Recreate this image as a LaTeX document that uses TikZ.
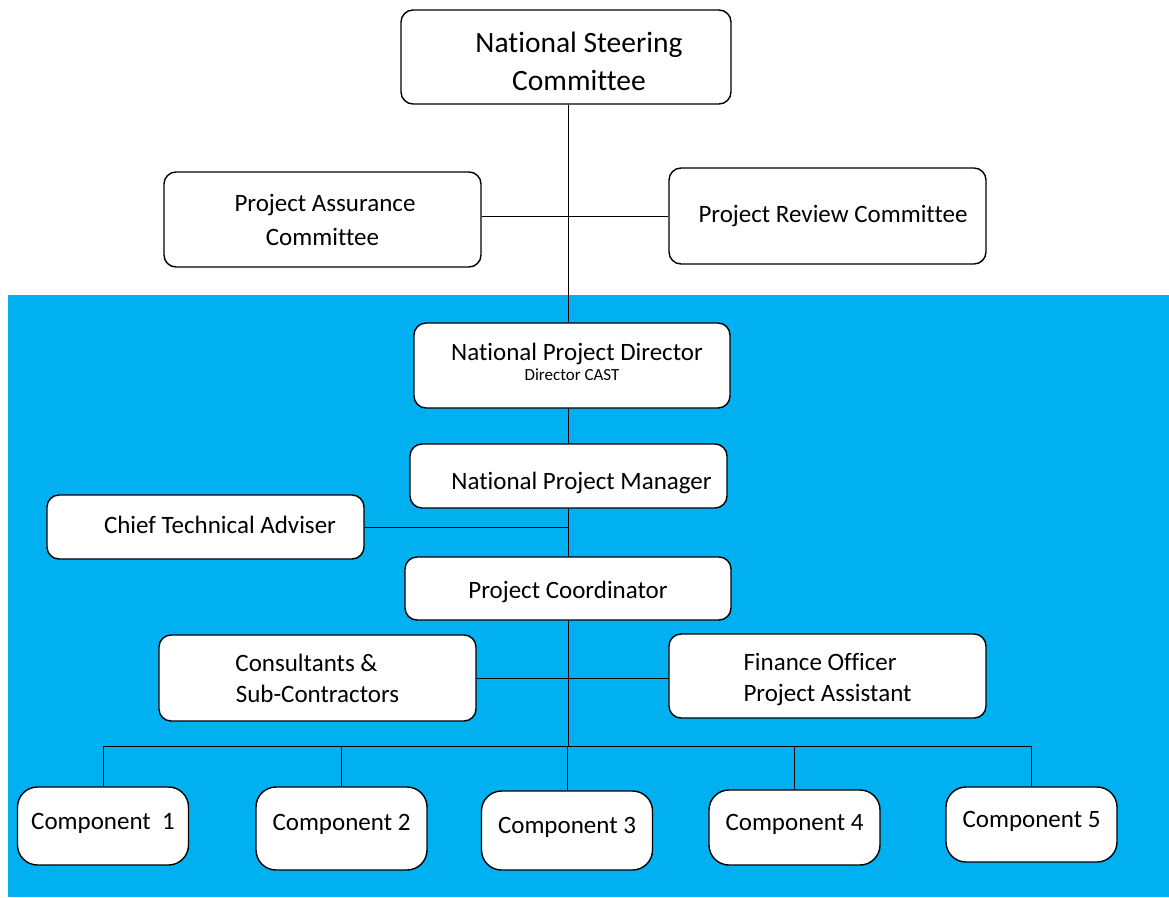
\documentclass[tikz,border=0pt]{standalone}
\usepackage{fontspec}
\setmainfont{Carlito}[Ligatures=NoCommon]
\definecolor{bgblue}{HTML}{00B0F0}

\begin{document}
\begin{tikzpicture}[x=1pt,y=-1pt,
  box/.style={draw,fill=white,line width=1.4pt,rounded corners=12pt,align=center,
    inner sep=0pt,font=\fontsize{25}{31}\selectfont},
  one/.style={box,text height=18pt,text depth=6pt},
  comp/.style={box,rounded corners=20pt,minimum width=171pt,text height=18pt,text depth=12pt},
  conn/.style={line width=1pt}]
\useasboundingbox (0,0) rectangle (1169,897);
\fill[white] (0,0) rectangle (1169,897);
\fill[bgblue] (8,295) rectangle (1169,897);
\coordinate (spine) at (568,0);
\coordinate (bus) at (0,746);

\node[box,minimum width=330pt,minimum height=94pt,font=\fontsize{29.5}{38}\selectfont] (nsc) at (566,57)
  {\rule{0pt}{30pt}\hspace*{26pt}National Steering\\\hspace*{26pt}Committee};
\node[box,minimum width=317pt,minimum height=95pt] (pac) at (322.5,219.5)
  {\hspace*{5pt}Project Assurance\\[3pt]Committee};
\node[one,minimum width=317pt,minimum height=96pt] (prc) at (827.5,216)
  {\hspace*{11pt}Project Review Committee};
\node[box,minimum width=316pt,minimum height=85pt] (npd) at (572,365.5)
  {\hspace*{10pt}National Project Director\\[-11pt]{\fontsize{17}{19}\selectfont Director CAST\rule[-8pt]{0pt}{0pt}}};
\node[one,minimum width=317pt,minimum height=64pt,text height=32pt] (npm) at (568.5,476)
  {\hspace*{26pt}National Project Manager};
\node[one,minimum width=317pt,minimum height=64pt] (cta) at (205.5,527)
  {\hspace*{29pt}Chief Technical Adviser};
\node[one,minimum width=326pt,minimum height=63pt,text height=26pt] (pc) at (568,588.5)
  {Project Coordinator};
\node[box,minimum width=317pt,minimum height=86pt] (csc) at (317.5,678)
  {\hspace*{-22pt}Consultants \&\\Sub-Contractors};
\node[box,minimum width=317pt,minimum height=84pt,align=left] (fo) at (827.5,676)
  {\rule{0pt}{24pt}Finance Officer\\Project Assistant};

\node[comp,minimum height=78pt] (c1) at (103,826) {Component\ \ 1};
\node[comp,minimum height=83pt,text depth=14pt] (c2) at (341.5,828.5) {Component 2};
\node[comp,minimum height=79pt] (c3) at (567,830.5) {Component 3};
\node[comp,minimum height=75pt] (c4) at (794.5,827.5) {Component 4};
\node[comp,minimum height=75pt] (c5) at (1031.5,824.5) {Component 5};

\draw[conn] (nsc.south -| spine) -- (npd.north -| spine);
\draw[conn] (prc.west -| pac.east) -- (prc.west);
\draw[conn] (npd.south -| spine) -- (npm.north -| spine);
\draw[conn] (npm.south -| spine) -- (pc.north -| spine);
\draw[conn] (cta.east) -- (cta.east -| spine);
\draw[conn] (csc.east) -- (csc.east -| fo.west);
\draw[conn] (pc.south -| spine) -- (bus -| spine);
\draw[conn] (c1.north) -- (c1.north |- bus) -- (c5.north |- bus) -- (c5.north);
\foreach \n in {c2,c3,c4}
  \draw[conn] (\n.north) -- (\n.north |- bus);
\end{tikzpicture}
\end{document}
